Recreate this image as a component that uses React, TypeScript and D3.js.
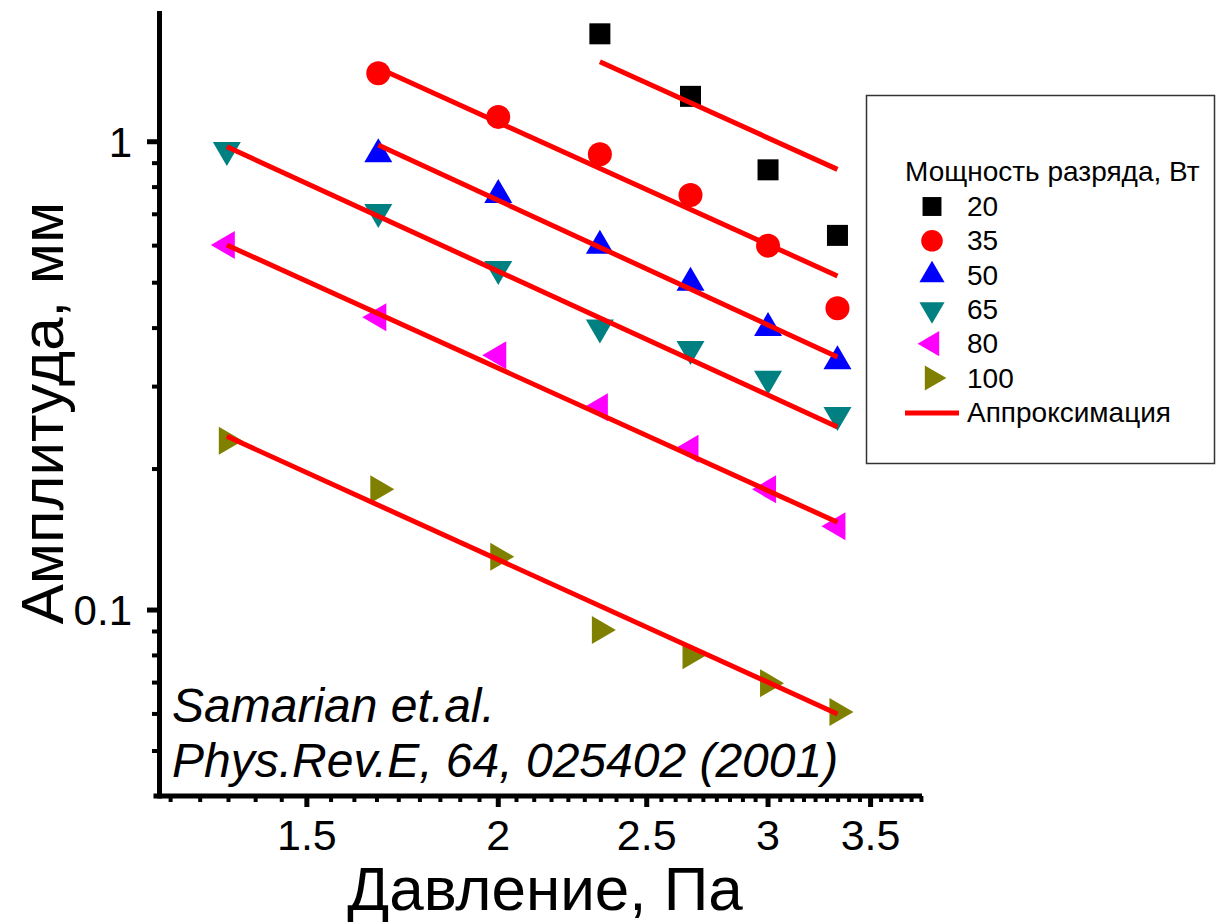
import React from "react";
import * as d3 from "d3";

// pressure, Pa
const pressure = [1.33, 1.67, 2.0, 2.33, 2.67, 3.0, 3.33];
// amplitude, mm (null = no point)
const amp20 = [null, null, null, 1.7, 1.25, 0.871, 0.631];
const amp35 = [null, 1.4, 1.13, 0.94, 0.77, 0.6, 0.441];
const amp50 = [null, 0.94, 0.77, 0.6, 0.5, 0.4, 0.34];
const amp65 = [0.96, 0.708, 0.535, 0.401, 0.361, 0.312, 0.261];
const amp80 = [0.602, 0.422, 0.35, 0.271, 0.221, 0.181, 0.151];
const amp100 = [0.23, 0.181, 0.13, 0.0907, 0.0801, 0.0698, 0.0606];

// fitted lines: [start, end] pressure and amplitude
const fitX20 = [2.33, 3.33], fit20 = [1.482, 0.873];
const fitX35 = [1.67, 3.33], fit35 = [1.437, 0.517];
const fitX50 = [1.67, 3.33], fit50 = [0.984, 0.347];
const fitX65 = [1.33, 3.33], fit65 = [0.976, 0.246];
const fitX80 = [1.33, 3.33], fit80 = [0.602, 0.154];
const fitX100 = [1.33, 3.33], fit100 = [0.235, 0.06];

const powerLabels = ["20", "35", "50", "65", "80", "100"];
const xMajor = [1.5, 2, 2.5, 3, 3.5];
const yMajor = [0.1, 1];
const yMajorLabels = ["0.1", "1"];

const FONT = "'Liberation Sans', Arial, sans-serif";

const series = [
  { label: powerLabels[0], vals: amp20, color: "#000000", shape: "square", fx: fitX20, fy: fit20 },
  { label: powerLabels[1], vals: amp35, color: "#ff0000", shape: "circle", fx: fitX35, fy: fit35 },
  { label: powerLabels[2], vals: amp50, color: "#0000ff", shape: "up", fx: fitX50, fy: fit50 },
  { label: powerLabels[3], vals: amp65, color: "#008080", shape: "down", fx: fitX65, fy: fit65 },
  { label: powerLabels[4], vals: amp80, color: "#ff00ff", shape: "left", fx: fitX80, fy: fit80 },
  { label: powerLabels[5], vals: amp100, color: "#808000", shape: "right", fx: fitX100, fy: fit100 },
];

// marker drawn with its centroid on (cx, cy); s = scale
function Marker({ shape, cx, cy, color, s = 1 }: any) {
  if (shape === "square") {
    const a = 21 * s;
    return <rect x={cx - a / 2} y={cy - a / 2} width={a} height={a} fill={color} />;
  }
  if (shape === "circle") return <circle cx={cx} cy={cy} r={12 * s} fill={color} />;
  const w = 28 * s, h = 24 * s;
  let pts: number[][] = [];
  if (shape === "up") pts = [[0, (-2 * h) / 3], [w / 2, h / 3], [-w / 2, h / 3]];
  if (shape === "down") pts = [[0, (2 * h) / 3], [w / 2, -h / 3], [-w / 2, -h / 3]];
  if (shape === "left") pts = [[(-2 * h) / 3, 0], [h / 3, -w / 2], [h / 3, w / 2]];
  if (shape === "right") pts = [[(2 * h) / 3, 0], [-h / 3, -w / 2], [-h / 3, w / 2]];
  return <polygon points={pts.map((p) => `${cx + p[0]},${cy + p[1]}`).join(" ")} fill={color} />;
}

export default function App() {
  const x = d3.scaleLog().domain([1.2, 3.78]).range([158.4, 921.8]);
  const y = d3.scaleLog().domain([0.04, 1.9]).range([796.4, 11.2]);

  // x minor ticks: 8 per major interval, linear in value
  const xMinor: number[] = [];
  for (let v = 1.5 - 0.5 / 9; v > 1.2; v -= 0.5 / 9) xMinor.push(v);
  for (let i = 0; i < xMajor.length; i++) {
    for (let k = 1; k <= 8; k++) {
      const v = xMajor[i] + (k * 0.5) / 9;
      if (v < 3.785) xMinor.push(v);
    }
  }
  const yMinor = [0.05, 0.06, 0.07, 0.08, 0.09, 0.2, 0.3, 0.4, 0.5, 0.6, 0.7, 0.8, 0.9];

  const line = d3
    .line<number[]>()
    .x((d) => x(d[0]))
    .y((d) => y(d[1]));

  const axX = 159.5;
  const axY = 796;

  return (
    <svg
      width={1219}
      height={922}
      style={{ position: "absolute", left: 0, top: 0, background: "#fff" }}
      fontFamily={FONT}
    >
      {/* markers */}
      {series.map((s) =>
        s.vals.map((v, i) =>
          v == null ? null : (
            <Marker key={s.label + i} shape={s.shape} cx={x(pressure[i])} cy={y(v)} color={s.color} />
          )
        )
      )}
      {/* fits */}
      {series.map((s) => (
        <path
          key={"fit" + s.label}
          d={line([[s.fx[0], s.fy[0]], [s.fx[1], s.fy[1]]]) || ""}
          stroke="#ff0000"
          strokeWidth={5}
          fill="none"
        />
      ))}

      {/* axes */}
      <line x1={axX} x2={axX} y1={11} y2={798.5} stroke="#000" strokeWidth={5} />
      <line x1={axX - 6} x2={922} y1={axY} y2={axY} stroke="#000" strokeWidth={5} />
      {yMajor.map((v, i) => (
        <g key={"ym" + v}>
          <line x1={147} x2={axX} y1={y(v)} y2={y(v)} stroke="#000" strokeWidth={5} />
          <text x={132} y={y(v)} dy="0.36em" textAnchor="end" fontSize={42}>
            {yMajorLabels[i]}
          </text>
        </g>
      ))}
      {yMinor.map((v) => (
        <line key={"yn" + v} x1={152} x2={axX} y1={y(v)} y2={y(v)} stroke="#000" strokeWidth={4} />
      ))}
      {xMajor.map((v) => (
        <g key={"xm" + v}>
          <line x1={x(v)} x2={x(v)} y1={axY} y2={axY + 11} stroke="#000" strokeWidth={5} />
          <text x={x(v)} y={850} textAnchor="middle" fontSize={43}>
            {String(v)}
          </text>
        </g>
      ))}
      {xMinor.map((v) => (
        <line key={"xn" + v} x1={x(v)} x2={x(v)} y1={axY} y2={axY + 6} stroke="#000" strokeWidth={4} />
      ))}

      {/* axis titles */}
      <text x={545} y={910} textAnchor="middle" fontSize={62}>
        Давление, Па
      </text>
      <text transform="translate(63,413) rotate(-90)" textAnchor="middle" fontSize={60}>
        Амплитуда, мм
      </text>

      {/* reference */}
      <text x={172} y={722} fontSize={48} fontStyle="italic">
        Samarian et.al.
      </text>
      <text x={172} y={777} fontSize={48} fontStyle="italic">
        Phys.Rev.E, 64, 025402 (2001)
      </text>

      {/* legend */}
      <rect x={866.5} y={95.5} width={348} height={368} fill="#fff" stroke="#333" strokeWidth={1.5} />
      <text x={905} y={181} fontSize={28}>
        Мощность разряда, Вт
      </text>
      {series.map((s, i) => {
        const by = 216 + i * 34.3;
        return (
          <g key={"lg" + s.label}>
            <Marker shape={s.shape} cx={932} cy={by - 9.5} color={s.color} s={0.9} />
            <text x={967} y={by} fontSize={28}>
              {s.label}
            </text>
          </g>
        );
      })}
      <line x1={905} x2={959} y1={413} y2={413} stroke="#ff0000" strokeWidth={5} />
      <text x={967} y={421.7} fontSize={28}>
        Аппроксимация
      </text>
    </svg>
  );
}
